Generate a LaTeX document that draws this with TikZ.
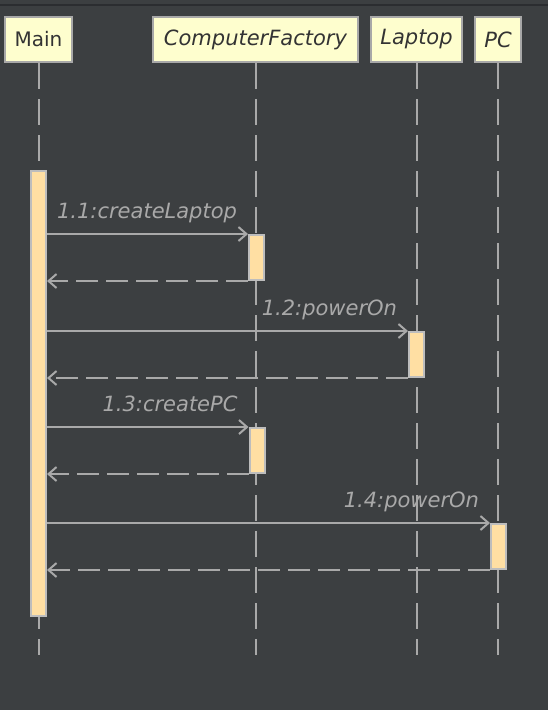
\documentclass[tikz,border=0pt]{standalone}
\usepackage{fontspec}
\setmainfont{DejaVu Sans}
\usetikzlibrary{arrows.meta}
\definecolor{bgcol}{HTML}{3C3F41}
\definecolor{topbar}{HTML}{2B2D30}
\definecolor{boxfill}{HTML}{FEFECE}
\definecolor{boxline}{HTML}{A8A8A8}
\definecolor{boxtext}{HTML}{333333}
\definecolor{linecol}{HTML}{A9A9A9}
\definecolor{actfill}{HTML}{FFDFA3}
\definecolor{actline}{HTML}{BDBDBD}

\begin{document}
\begin{tikzpicture}[
  party/.style={draw=boxline,fill=boxfill,line width=2pt,text=boxtext,minimum height=45pt,inner sep=0pt,font=\fontsize{20}{24}\selectfont},
  iparty/.style={party,font=\fontsize{21}{25}\selectfont\itshape},
  lifeline/.style={draw=linecol,line width=2pt,dash pattern=on 26pt off 10pt},
  act/.style={draw=actline,fill=actfill,line width=2pt,minimum width=15pt,inner sep=0pt,anchor=north},
  msg/.style={draw=linecol,line width=2pt,-{Straight Barb[length=8pt,width=14pt]}},
  ret/.style={msg,dash pattern=on 22pt off 8pt},
  lbl/.style={text=linecol,font=\fontsize{21}{25}\selectfont\itshape,anchor=base east,inner sep=0pt,xshift=-10pt,yshift=16pt}
]
\pgfsetxvec{\pgfpoint{1pt}{0}}
\pgfsetyvec{\pgfpoint{0}{-1pt}}
  \fill[bgcol] (0,0) rectangle (548,710);
  \useasboundingbox (0,0) rectangle (548,710);
  \draw[topbar,line width=2pt] (0,5)--(548,5);
  % participants
  \node[party,minimum width=67pt] (main) at (38.5,39.5) {Main};
  \node[iparty,minimum width=205pt] (factory) at (255.5,39.5) {ComputerFactory};
  \node[iparty,minimum width=91pt] (laptop) at (416.5,39.5) {Laptop};
  \node[iparty,minimum width=46pt] (pc) at (498,39.5) {PC};
  \coordinate (bottom) at (0,655);
  \foreach \p in {main,factory,laptop,pc}
    \draw[lifeline] (\p.south)--(\p.south |- bottom);
  % activations
  \node[act,minimum height=445pt] (mainact) at (main |- 0,170) {};
  \node[act,minimum height=45pt] (act1) at (256.5,234) {};
  \node[act,minimum height=45pt] (act2) at (416.5,331) {};
  \node[act,minimum height=45pt] (act3) at (257,427) {};
  \node[act,minimum height=45pt] (act4) at (498.5,523) {};
  % messages
  \draw[msg] (mainact.east |- act1.north west)--(act1.north west)node[lbl]{1.1:createLaptop};
  \draw[ret] (act1.south west)--(mainact.east |- act1.south west);
  \draw[msg] (mainact.east |- act2.north west)--(act2.north west)node[lbl]{1.2:powerOn};
  \draw[ret] (act2.south west)--(mainact.east |- act2.south west);
  \draw[msg] (mainact.east |- act3.north west)--(act3.north west)node[lbl]{1.3:createPC};
  \draw[ret] (act3.south west)--(mainact.east |- act3.south west);
  \draw[msg] (mainact.east |- act4.north west)--(act4.north west)node[lbl]{1.4:powerOn};
  \draw[ret] (act4.south west)--(mainact.east |- act4.south west);
\end{tikzpicture}
\end{document}
